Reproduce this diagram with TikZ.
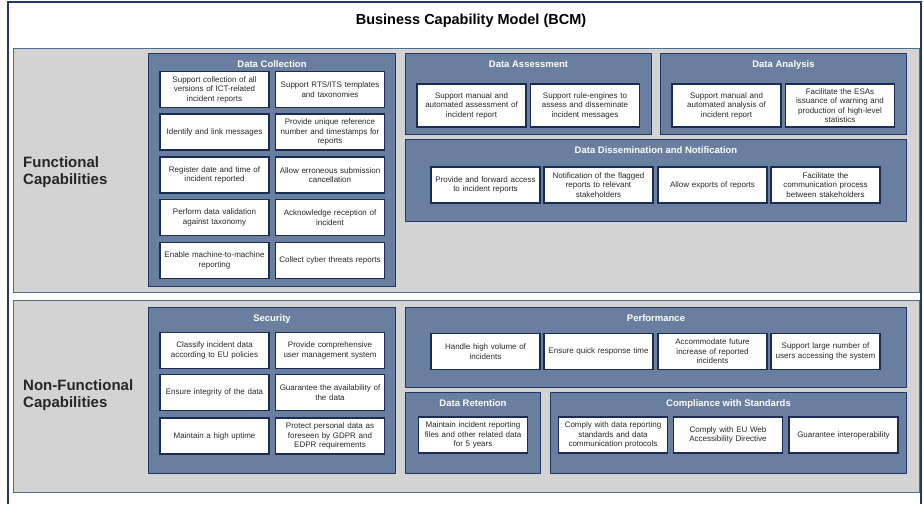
\documentclass[tikz,border=0pt]{standalone}
\usepackage{fontspec}
\setmainfont{Liberation Sans}
\usetikzlibrary{positioning}
\definecolor{frameline}{RGB}{31,56,110}
\definecolor{panelgray}{RGB}{211,211,211}
\definecolor{panelline}{RGB}{79,108,145}
\definecolor{grpblue}{RGB}{106,127,160}
\definecolor{grpline}{RGB}{31,56,100}
\definecolor{capline}{RGB}{23,45,85}
\definecolor{captext}{RGB}{40,40,40}
\tikzset{
  panel/.style     = {draw=panelline, fill=panelgray, line width=1.2pt,
                      anchor=north west, inner sep=0pt},
  grp/.style       = {draw=grpline, fill=grpblue, line width=1pt,
                      anchor=north west, inner sep=0pt},
  grptitle/.style  = {font=\fontsize{9.5}{11}\selectfont\bfseries, text=white,
                      inner sep=0pt, text height=7pt, text depth=0pt},
  capbox/.style    = {draw=capline, fill=white, line width=1.6pt, text=captext,
                      text width=104pt, minimum height=36pt, inner sep=2.5pt,
                      align=center, font=\fontsize{8}{9.5}\selectfont},
  sidelabel/.style = {anchor=west, align=left, inner sep=0pt, text=black!85,
                      font=\fontsize{15}{17}\selectfont\bfseries},
}
\begin{document}
\begin{tikzpicture}[x=1pt, y=-1pt]
  \useasboundingbox (0,0) rectangle (924,504);

  % outer frame and title
  \draw[frameline, line width=1.2pt] (8,504) -- (8,2) -- (921,2) -- (921,504);
  \node[font=\fontsize{14.5}{17}\selectfont\bfseries] (title) at (471,21)
    {Business Capability Model (BCM)};

  % the two bands
  \node[panel, minimum width=906pt, minimum height=244pt] (func) at (13,48) {};
  \node[panel, minimum width=906pt, minimum height=192pt] (nonfunc) at (13,300) {};
  \node[sidelabel] (funclbl) at (23,172) {Functional\\Capabilities};
  \node[sidelabel] (nonfunclbl) at (23,395) {Non-Functional\\Capabilities};

  % capability groups
  \foreach \n/\x/\y/\w/\h/\t in {dc/148/53/247/233/Data Collection,
      da/405/53/246/81/Data Assessment, dan/660/53/246/81/Data Analysis,
      ddn/405/139/501/82/Data Dissemination and Notification,
      sec/148/307/247/166/Security, perf/405/307/501/80/Performance,
      ret/405/392/135/81/Data Retention, comp/550/392/356/81/Compliance with Standards} {
    \node[grp, minimum width=\w pt, minimum height=\h pt] (\n) at (\x,\y) {};
    \node[grptitle, below=7.5pt of \n.north] (\n-title) {\t};
  }

  % data collection
  \foreach \n/\x/\y/\t in {
      dc1/214.5/89.5/{Support collection of all\\versions of ICT-related\\incident reports},
      dc2/330/89.5/{Support RTS/ITS templates\\and taxonomies},
      dc3/214.5/132/{Identify and link messages},
      dc4/330/132/{Provide unique reference\\number and timestamps for\\reports},
      dc5/214.5/175/{Register date and time of\\incident reported},
      dc6/330/175/{Allow erroneous submission\\cancellation},
      dc7/214.5/217.5/{Perform data validation\\against taxonomy},
      dc8/330/217.5/{Acknowledge reception of\\incident},
      dc9/214.5/260.5/{Enable machine-to-machine\\reporting},
      dc10/330/260.5/{Collect cyber threats reports}} {
    \node[capbox] (\n) at (\x,\y) {\t};
  }

  % assessment and analysis
  \foreach \n/\x/\t in {
      da1/471.5/{Support manual and\\automated assessment of\\incident report},
      da2/585/{Support rule-engines to\\assess and disseminate\\incident messages},
      dan1/726.5/{Support manual and\\automated analysis of\\incident report},
      dan2/840/{Facilitate the ESAs\\issuance of warning and\\production of high-level\\statistics}} {
    \node[capbox, minimum height=43pt] (\n) at (\x,105.5) {\t};
  }

  % dissemination and performance rows
  \foreach \n/\x/\y/\t in {
      ddn1/485.5/185/{Provide and forward access\\to incident reports},
      ddn2/598.5/185/{Notification of the flagged\\reports to relevant\\stakeholders},
      ddn3/712.5/185/{Allow exports of reports},
      ddn4/825.5/185/{Facilitate the\\communication process\\between stakeholders},
      perf1/485.5/351.5/{Handle high volume of\\incidents},
      perf2/598.5/351.5/{Ensure quick response time},
      perf3/712.5/351.5/{Accommodate future\\increase of reported\\incidents},
      perf4/825.5/351.5/{Support large number of\\users accessing the system}} {
    \node[capbox] (\n) at (\x,\y) {\t};
  }

  % security
  \foreach \n/\x/\y/\t in {
      sec1/214.5/350.5/{Classify incident data\\according to EU policies},
      sec2/330/350.5/{Provide comprehensive\\user management system},
      sec3/214.5/392.5/{Ensure integrity of the data},
      sec4/330/392.5/{Guarantee the availability of\\the data},
      sec5/214.5/436/{Maintain a high uptime},
      sec6/330/436/{Protect personal data as\\foreseen by GDPR and\\EDPR requirements}} {
    \node[capbox] (\n) at (\x,\y) {\t};
  }

  % retention and compliance
  \foreach \n/\x/\t in {
      ret1/473/{Maintain incident reporting\\files and other related data\\for 5 years},
      comp1/613/{Comply with data reporting\\standards and data\\communication protocols},
      comp2/728/{Comply with EU Web\\Accessibility Directive},
      comp3/843.5/{Guarantee interoperability}} {
    \node[capbox] (\n) at (\x,435) {\t};
  }

\end{tikzpicture}
\end{document}
